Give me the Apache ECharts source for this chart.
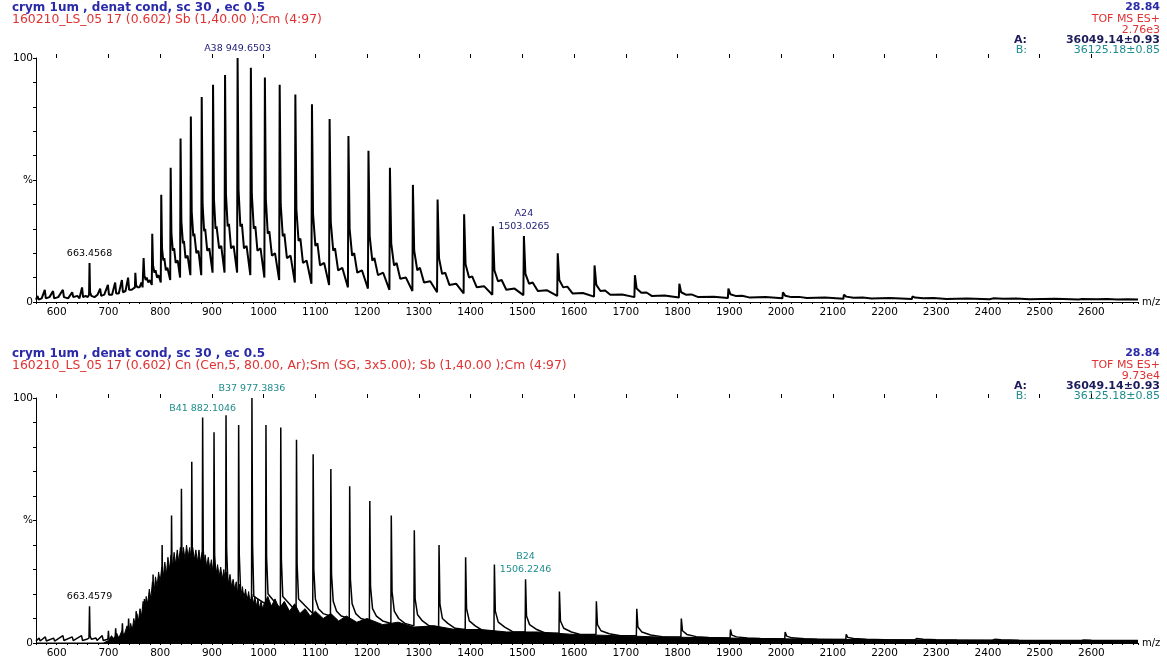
<!DOCTYPE html>
<html><head><meta charset="utf-8">
<script src="https://cdn.jsdelivr.net/npm/echarts@6/dist/echarts.min.js"></script>
<style>html,body{margin:0;padding:0;background:#fff}#c{width:1167px;height:666px}</style>
</head><body><div id="c"></div>
<script>
// ---------- tick labels ----------
const xTickLabels = [600,700,800,900,1000,1100,1200,1300,1400,1500,1600,1700,1800,1900,2000,2100,2200,2300,2400,2500,2600];
const yTickLabels = {0:'0', 50:'%', 100:'100'};

// ---------- top spectrum (raw, Sb) ----------
const topPeakMz  = [663.46,752.0,768.0,784.7,802.1,820.3,839.4,859.3,880.3,902.2,925.4,949.65,975.3,1002.4,1031.0,1061.3,1093.4,1127.5,1163.9,1202.6,1244.1,1288.5,1336.2,1387.5,1443.0,1503.03,1568.4,1639.6,1717.6,1803.5,1898.3,2003.7,2121.5,2254.1,2404.3,2576.0];
const topPeakInt = [16,12,18,28,44,55,67,76,84,89,93,100,96,92,89,85,81,75,68,62,55,48,42,36,31,27,20,15,11,7.5,5.5,4,3,2.3,1.8,1.4];
const topNoise = [[560,1],[563,2.5],[565,1],[571,1.5],[577,5],[579,1.5],[586,2],[593,4.5],[595,1.5],[603,2],[606,1.5],[612,5],[614,2],[622,1.5],[630,4],[632,2],[640,2.5],[644,1.5],[649,6],[651,2],[656,2.5],[660,2],[662.6,3],[664.5,4],[667,2.5],[673,2],[679,3],[684,5.5],[686,2.5],[692,3],[699,7],[701,3],[707,3],[713,8],[715,3.5],[720,3.5],[726,9],[728,4],[733,4.5],[738,10],[740,5],[745,5],[751.2,6]];
const topTails = [[753.5,7],[756,6],[760,6],[764,8],[766,6],[767.2,6],
 [769.5,11],[772,9],[774,10],[777,8],[780,9],[783.8,7],
 [786.2,15],[789,12],[791,13],[794,10],[797,11],[801.2,8],
 [803.6,22],[806,17],[808,18],[811,13],[814,14],[819.4,9],
 [821.8,28],[824.5,21],[827,22],[830,16],[834,17],[838.5,10],
 [841,33],[844,24],[846,25],[849,18],[853,19],[858.4,11],
 [861,37],[864,27],[866,28],[870,20],[874,21],[879.4,11],
 [882,40],[885,29],[887,30],[891,21],[895,22],[901.3,12],
 [904,42],[907,30],[909,31],[914,22],[918,23],[924.4,12],
 [927.2,44],[930.5,31],[933,32],[937,22],[942,23],[948.7,12],
 [951.5,46],[955,31],[958,32],[962,22],[967,23],[974.3,11],
 [977.2,44],[981,30],[984,31],[988,21],[994,22],[1001.4,10],
 [1004.3,42],[1008,28],[1011,29],[1016,19],[1022,20],[1030,9],
 [1033,40],[1037,27],[1040,28],[1045,18],[1052,19],[1060.3,8],
 [1063.3,38],[1067.5,25],[1071,26],[1076,16],[1083,17],[1092.4,7.5],
 [1095.5,36],[1100,23],[1104,24],[1109,15],[1117,16],[1126.5,7],
 [1129.7,33],[1134.5,21],[1138,22],[1144,13],[1152,14],[1162.9,6],
 [1166.2,30],[1171,19],[1175,20],[1181,12],[1190,13],[1201.6,5.5],
 [1205,27],[1210,17],[1214,18],[1221,11],[1231,12],[1243.1,5],
 [1246.6,24],[1252,15],[1257,16],[1264,9.5],[1275,10],[1287.5,4.5],
 [1291,21],[1297,13],[1302,14],[1310,8],[1322,8.5],[1335.2,4],
 [1339,18],[1345,11.5],[1351,12],[1359,7],[1372,7.5],[1386.5,3.5],
 [1390.3,15.5],[1397,10],[1403,10.5],[1412,6],[1426,6.5],[1442,3],
 [1446,13],[1453,8.5],[1460,9],[1469,5],[1485,5.5],[1502,2.8],
 [1506,11.5],[1513,7.5],[1520,8],[1530,4.5],[1548,4.8],[1567.4,2.5],
 [1571.5,9],[1579,6],[1587,6.3],[1597,3.5],[1617,3.7],[1638.6,2.2],
 [1643,7],[1651,4.5],[1660,4.7],[1670,3],[1693,3.1],[1716.6,2],
 [1721,5.5],[1730,3.8],[1740,3.9],[1750,2.5],[1775,2.7],[1802.5,1.8],
 [1807,4],[1816,3],[1827,3.1],[1840,2],[1870,2.2],[1897.3,1.6],
 [1902,3.2],[1912,2.5],[1925,2.6],[1940,1.8],[1970,2],[2002.7,1.5],
 [2008,2.6],[2020,2],[2035,2.1],[2050,1.6],[2085,1.8],[2120.5,1.3],
 [2126,2.2],[2140,1.7],[2158,1.8],[2175,1.4],[2210,1.6],[2253,1.2],
 [2259,1.8],[2275,1.5],[2295,1.6],[2320,1.2],[2360,1.4],[2403.3,1.1],
 [2410,1.5],[2430,1.3],[2455,1.4],[2480,1.1],[2530,1.3],[2575,1],
 [2582,1.2],[2610,1.1],[2630,1.2],[2650,1],[2670,1.1],[2690,1]];

// ---------- bottom spectrum (centred, Cn/Sm/Sb) ----------
const botPeakMz  = [663.46,700,714,727,739,753.6,769.6,786.3,803.8,822.0,841.1,861.1,882.1,904.1,927.3,951.7,977.38,1004.5,1033.1,1063.5,1095.7,1129.9,1166.3,1205.2,1246.7,1291.2,1339.0,1390.4,1446.0,1506.22,1571.7,1643.1,1721.2,1807.3,1902.3,2008.0,2126.0,2258.8,2409.3,2581.4];
const botPeakInt = [15,5,6,8,10,13,18,28,40,52,63,74,92,86,93,89,100,89,88,83,77,71,64,58,52,46,40,35,32,26,21,17,14,10,5.5,4.5,3.5,2,1.5,1.2];
const botNoise = [[560,0.8],[566,2],[568,0.8],[578,2.5],[580,0.8],[594,2],[596,0.8],[612,3],[614,1],[630,2.5],[632,1],[648,3],[650,1],[658,1.5],[662.4,2],[664.5,3],[667,1.5],[676,2],[678,1],[688,3],[690,1],[699,1.5],[701,1.5],[713,2],[715,2],[726,2.5],[728,3],[738,4],[740,5],[752.8,7]];
const botTails = [[754.8,7],[757,6],
 [768.8,10],[770.8,9],[773,10],
 [785.5,14],[787.5,13],[790,14],
 [803,18],[805,18],[808,18],
 [821.2,22],[823.2,23],[826,22],
 [840.3,24],[842.3,27],[845,25],
 [860.3,25],[862.3,31],[865,26],
 [881.3,26],[883.3,38],[886,27],
 [903.3,25],[905.3,36],[908,26],
 [926.5,23],[928.5,38],[931,24],
 [950.9,20],[952.9,36],[955.5,21],
 [976.6,17],[978.6,40],[981,19],
 [1003.7,16],[1005.7,35],[1008.5,20],
 [1032.3,14],[1034.3,34],[1037,19],
 [1062.7,13],[1064.7,32],[1067.5,18],
 [1094.9,12],[1097,30],[1100,18],[1106,14],[1115,12],
 [1129.1,11],[1131.2,28],[1134.5,17],[1141,13],[1150,11],
 [1165.5,10],[1167.7,26],[1171,16],[1178,12],[1188,10],
 [1204.4,9],[1206.6,23],[1210.5,14],[1218,11],[1230,9],
 [1245.9,8],[1248.2,21],[1252.5,13],[1261,10],[1273,8],
 [1290.4,7],[1292.8,18],[1297.5,11.5],[1307,9],[1320,7],
 [1338.2,6.5],[1340.7,16],[1345.5,10],[1356,8],[1370,6],
 [1389.6,5.5],[1392.2,14],[1397.5,9],[1409,7],[1424,5],
 [1445.2,5],[1447.8,13],[1453.5,8.5],[1466,6.5],[1482,4.5],
 [1505.4,4.5],[1508.1,11],[1514,7.5],[1528,5.5],[1545,4],
 [1570.9,4],[1573.7,9],[1580,6],[1595,4.5],[1612,3.5],
 [1642.3,3.5],[1645.2,7.5],[1652,5],[1668,3.8],[1690,3],
 [1720.4,3],[1723.4,6.5],[1731,4.5],[1748,3.3],[1770,2.6],
 [1806.5,2.5],[1809.6,5],[1818,3.5],[1836,2.6],[1860,2.2],
 [1901.5,2],[1905,3.2],[1914,2.5],[1935,2],[1960,1.8],
 [2007.2,1.6],[2011,2.8],[2021,2.1],[2045,1.7],[2070,1.5],
 [2125.2,1.4],[2129,2.3],[2140,1.8],[2165,1.5],[2200,1.3],
 [2258,1.2],[2262,1.8],[2275,1.5],[2300,1.3],[2340,1.2],
 [2408.5,1.1],[2413,1.5],[2425,1.3],[2460,1.1],
 [2580.6,1],[2585,1.2],[2600,1.1],[2690,1]];
const botHump = [[560,0],[690,0],[700,1],[706,3],[710,1.5],[716,4],[720,2],[726,5],[730,3],[736,7],[740,4],
 [743,8],[746,5],[749,10],[752,7],[755,12],[758,9],[761,14],[764,11],[767,17],[770,13],[773,19],[776,16],[779,22],[782,18],
 [785,25],[788,20],[791,27],[794,23],[797,29],[800,25],[803,31],[806,27],[809,33],[812,28],[815,35],[818,30],[821,36],[824,31],
 [827,37],[830,32],[833,38],[836,33],[839,39],[842,34],[845,39],[848,34],[851,40],[854,35],[857,39],[860,34],[863,39],[866,34],
 [869,38],[872,33],[875,38],[878,33],[881,37],[884,32],[887,36],[890,31],[893,35],[896,30],[899,34],[902,29],[905,33],[908,28],
 [911,32],[914,27],[917,31],[920,26],[923,30],[926,25],[929,29],[932,24],[935,28],[938,23],[941,26],[944,22],[947,25],[950,20],
 [953,24],[956,19],[959,23],[962,18],[965,22],[968,17],[971,21],[974,16],[977,20],[980,16],[983,19],[986,15],[989,18],[992,14],
 [995,17],[998,14],[1001,16],[1008,19],[1015,15],[1022,18],[1030,14],[1040,17],[1050,13],[1060,16],[1070,12],[1080,14],[1090,11],
 [1100,13],[1115,10],[1130,12],[1145,9],[1160,11],[1180,8.5],[1200,10],[1230,7.5],[1260,8.5],[1290,6.5],[1330,7],[1370,5.5],
 [1420,5.5],[1470,4.5],[1530,4.5],[1600,3.5],[1680,3],[1760,2.5],[1850,2.2],[1950,1.8],[2100,1.5],[2300,1.2],[2500,1],[2690,0.9]];

// ---------- annotations ----------
const topLabels = [
  {mz:949.65, h:100, name:'', text:'A38 949.6503', color:'#1c1c78'},
  {mz:1503.03, h:27, name:'A24', text:'1503.0265', color:'#1c1c78'},
  {mz:663.46, h:16, name:'', text:'663.4568', color:'#000'}
];
const botLabels = [
  {mz:977.38, h:100, name:'', text:'B37 977.3836', color:'#1f8c8c'},
  {mz:882.1, h:92, name:'', text:'B41 882.1046', color:'#1f8c8c'},
  {mz:1506.22, h:26, name:'B24', text:'1506.2246', color:'#1f8c8c'},
  {mz:663.46, h:15, name:'', text:'663.4579', color:'#000'}
];
const headerTitle = 'crym 1um , denat cond, sc 30 , ec 0.5';
const topFunc = '160210_LS_05 17 (0.602) Sb (1,40.00 );Cm (4:97)';
const botFunc = '160210_LS_05 17 (0.602) Cn (Cen,5, 80.00, Ar);Sm (SG, 3x5.00); Sb (1,40.00 );Cm (4:97)';
const rtText = '28.84';
const modeText = 'TOF MS ES+';
const topIntensity = '2.76e3';
const botIntensity = '9.73e4';
const massA = ['A:', '36049.14\u00b10.93'];
const massB = ['B:', '36125.18\u00b10.85'];

// ---------- build ----------
function profile(mz, inten, extra){
  const d = extra.slice();
  mz.forEach((m,i)=>d.push([m, inten[i]]));
  d.sort((a,b)=>a[0]-b[0]);
  return d;
}
const FONT = 'DejaVu Sans';
function xAx(g){
  return [{
    type:'value', gridIndex:g, min:560, max:2690, interval:20,
    axisLine:{lineStyle:{color:'#000',width:1}},
    axisTick:{length:2,lineStyle:{color:'#000'}},
    splitLine:{show:false},
    axisLabel:{color:'#000',fontFamily:FONT,fontSize:10.5,margin:5,
      formatter:v=>xTickLabels.indexOf(v)>=0?String(v):''},
    name:'m/z', nameLocation:'end', nameGap:4,
    nameTextStyle:{color:'#000',fontFamily:FONT,fontSize:10,verticalAlign:'middle',align:'left'}
  },{
    type:'value', gridIndex:g, min:560, max:2690,
    axisLine:{show:false}, axisLabel:{show:false}, splitLine:{show:false},
    axisTick:{show:true,length:4,customValues:xTickLabels,lineStyle:{color:'#000'}}
  }];
}
function yAx(g){
  return {
    type:'value', gridIndex:g, min:0, max:100, interval:10,
    axisLine:{show:true,lineStyle:{color:'#000'}},
    axisTick:{show:true,length:3,lineStyle:{color:'#000'}},
    splitLine:{show:false},
    axisLabel:{color:'#000',fontFamily:FONT,fontSize:10.5,margin:3,
      formatter:v=>yTickLabels[v]!==undefined?yTickLabels[v]:''}
  };
}
function marks(list){
  return {
    symbol:'rect', symbolSize:1, itemStyle:{color:'rgba(0,0,0,0)'},
    data:list.map(l=>({coord:[l.mz,l.h], value:l.text,
      label:{show:true, position:'top', distance:3,
        formatter: l.name ? '{n|'+l.name+'}\n{v|'+l.text+'}' : '{v|'+l.text+'}',
        rich:{n:{color:l.color,fontFamily:FONT,fontSize:9.5,align:'center',lineHeight:14},
              v:{color:l.color,fontFamily:FONT,fontSize:9.5,align:'center',lineHeight:12}}}}))
  };
}
function txt(x,y,s,color,align,font){
  return {type:'text', left:align==='right'?undefined:x, right:align==='right'?x:undefined, top:y,
    style:{text:s, fill:color, font:font||('12.4px "'+FONT+'"')}};
}
const HB = 'bold 12px "'+FONT+'"';
const RB = 'bold 11px "'+FONT+'"';
const RN = '11px "'+FONT+'"';
const chart = echarts.init(document.getElementById('c'), null, {renderer:'canvas'});
chart.setOption({
  animation:false,
  backgroundColor:'#fff',
  grid:[{left:36,right:29,top:58,height:244},{left:36,right:29,top:398,height:245}],
  xAxis:[...xAx(0), ...xAx(1)],
  yAxis:[yAx(0), yAx(1)],
  series:[
    {type:'line', xAxisIndex:0, yAxisIndex:0, data:profile(topPeakMz, topPeakInt, topNoise.concat(topTails)),
      showSymbol:false, lineStyle:{color:'#000',width:2}, silent:true, markPoint:marks(topLabels)},
    {type:'line', xAxisIndex:2, yAxisIndex:1, data:botHump, showSymbol:false,
      lineStyle:{color:'#000',width:1}, areaStyle:{color:'#000',opacity:1}, silent:true},
    {type:'line', xAxisIndex:2, yAxisIndex:1, data:profile(botPeakMz, botPeakInt, botNoise.concat(botTails)),
      showSymbol:false, lineStyle:{color:'#000',width:1.5}, silent:true, markPoint:marks(botLabels)}
  ],
  graphic:[
    txt(12,2,headerTitle,'#2a2aa8',null,HB), txt(12,14,topFunc,'#e03232'),
    txt(7,2,rtText,'#2a2aa8','right',RB), txt(7,14,modeText,'#e03232','right',RN), txt(7,25,topIntensity,'#e03232','right',RN),
    txt(140,35,massA[0],'#1c1c5a','right',RB), txt(7,35,massA[1],'#1c1c5a','right',RB),
    txt(140,45,massB[0],'#1f8c8c','right',RN), txt(7,45,massB[1],'#1f8c8c','right',RN),
    txt(12,348,headerTitle,'#2a2aa8',null,HB), txt(12,360,botFunc,'#e03232'),
    txt(7,348,rtText,'#2a2aa8','right',RB), txt(7,360,modeText,'#e03232','right',RN), txt(7,371,botIntensity,'#e03232','right',RN),
    txt(140,381,massA[0],'#1c1c5a','right',RB), txt(7,381,massA[1],'#1c1c5a','right',RB),
    txt(140,391,massB[0],'#1f8c8c','right',RN), txt(7,391,massB[1],'#1f8c8c','right',RN)
  ]
});
</script></body></html>
